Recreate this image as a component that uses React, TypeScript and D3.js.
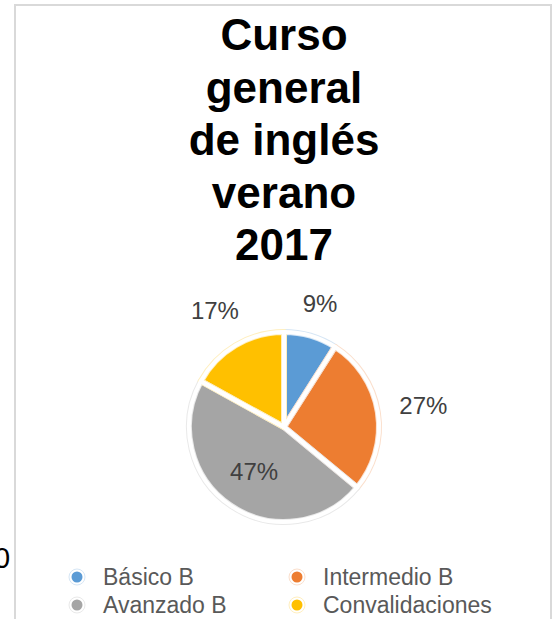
import React from "react";
import * as d3 from "d3";

const titleLines = ["Curso", "general", "de inglés", "verano", "2017"];
const categories = ["Básico B", "Intermedio B", "Avanzado B", "Convalidaciones"];
const values = [9, 27, 47, 17];
const colors = ["#5B9BD5", "#ED7D31", "#A5A5A5", "#FFC000"];

const W = 554;
const H = 619;
const cx = 284;
const cy = 427;
const R = 95;
const labelFont = 24;

export default function App() {
  const pie = d3.pie<number>().sort(null).value((d) => d)(values);
  const arc = d3.arc<d3.PieArcDatum<number>>().innerRadius(0).outerRadius(R);
  const total = d3.sum(values);
  const tint = (c: string) => d3.interpolateRgb(c, "#ffffff")(0.75);

  const labels = pie.map((p, i) => {
    const pct = Math.round((p.data / total) * 100) + "%";
    const mid = (p.startAngle + p.endAngle) / 2;
    const s = Math.sin(mid);
    const c = Math.cos(mid);
    const digits = pct.length - 1;
    const w = labelFont * (0.556 * digits + 0.889);
    const h = labelFont * 0.72;
    let r: number;
    if (p.data / total > 0.4) {
      r = R * 0.56;
    } else {
      r = R + 21 + Math.abs(s) * (w / 2) + Math.abs(c) * (h / 2);
    }
    return { pct, x: cx + r * s, y: cy - r * c + labelFont * 0.36, i };
  });

  const legendX = [77, 297];
  const legendY = [577, 605];

  return (
    <svg
      width={W}
      height={H}
      style={{ position: "absolute", left: 0, top: 0, background: "#fff" }}
      fontFamily="'Liberation Sans', Arial, Helvetica, sans-serif"
    >
      <rect x={0} y={0} width={W} height={H} fill="#fff" />
      <text x={-6} y={568} fontSize={29} fill="#000">0</text>
      <rect x={15} y={5} width={536} height={700} fill="#fff" stroke="#d9d9d9" strokeWidth={2} />
      {titleLines.map((t, i) => (
        <text
          key={t}
          x={284}
          y={50 + i * 52.5}
          textAnchor="middle"
          fontSize={44}
          fontWeight="bold"
          fill="#000"
        >
          {t}
        </text>
      ))}
      <g>
        {pie.map((p, i) => (
          <path key={"f" + i} d={arc(p) || ""} transform={`translate(${cx},${cy})`} fill={colors[i]} />
        ))}
        {pie.map((p, i) => (
          <path
            key={"t" + i}
            d={arc(p) || ""}
            transform={`translate(${cx},${cy})`}
            fill="none"
            stroke={tint(colors[i])}
            strokeWidth={6}
            strokeLinejoin="round"
          />
        ))}
        {pie.map((p, i) => (
          <path
            key={"w" + i}
            d={arc(p) || ""}
            transform={`translate(${cx},${cy})`}
            fill="none"
            stroke="#fff"
            strokeWidth={4}
            strokeLinejoin="round"
          />
        ))}
      </g>
      {labels.map((l) => (
        <text key={"l" + l.i} x={l.x} y={l.y} textAnchor="middle" fontSize={labelFont} fill="#404040">
          {l.pct}
        </text>
      ))}
      {categories.map((c, i) => {
        const col = i % 2;
        const row = Math.floor(i / 2);
        const x = legendX[col];
        const y = legendY[row];
        return (
          <g key={c}>
            <circle cx={x} cy={y} r={8} fill="none" stroke={tint(colors[i])} strokeWidth={1} />
            <circle cx={x} cy={y} r={5.5} fill={colors[i]} />
            <text x={x + 26} y={y + 8} fontSize={23} fill="#595959">
              {c}
            </text>
          </g>
        );
      })}
    </svg>
  );
}
